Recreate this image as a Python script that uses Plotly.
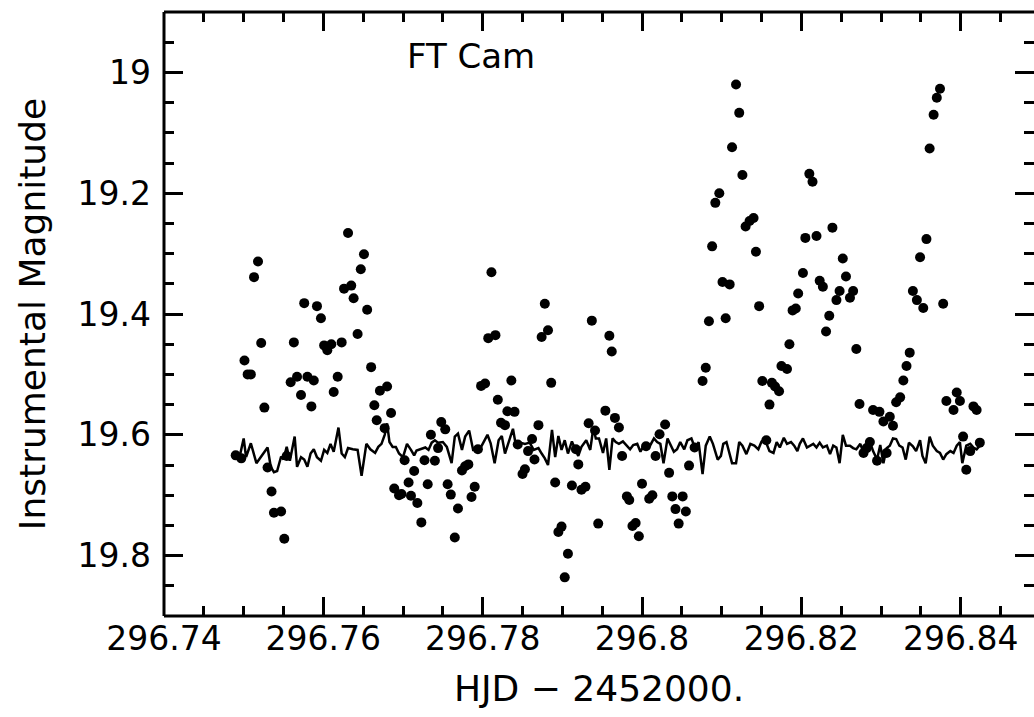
import plotly.graph_objects as go

# ---- FT Cam photometry (points) ----
hjd = [
296.7490, 296.7497, 296.7501, 296.7505, 296.7509, 296.7513, 296.7518, 296.7522, 296.7526, 296.7530,
296.7535, 296.7538, 296.7547, 296.7551, 296.7554, 296.7559, 296.7563, 296.7567, 296.7572, 296.7576,
296.7580, 296.7585, 296.7588, 296.7592, 296.7597, 296.7601, 296.7605, 296.7610, 296.7613, 296.7618,
296.7623, 296.7626, 296.7631, 296.7635, 296.7638, 296.7643, 296.7647, 296.7651, 296.7655, 296.7660,
296.7664, 296.7667, 296.7671, 296.7677, 296.7680, 296.7685, 296.7689, 296.7695, 296.7698, 296.7702,
296.7707, 296.7710, 296.7714, 296.7718, 296.7723, 296.7727, 296.7731, 296.7735, 296.7740, 296.7744,
296.7748, 296.7753, 296.7756, 296.7760, 296.7765, 296.7769, 296.7774, 296.7778, 296.7782, 296.7786,
296.7790, 296.7794, 296.7798, 296.7803, 296.7807, 296.7811, 296.7816, 296.7819, 296.7823, 296.7828,
296.7831, 296.7836, 296.7840, 296.7844, 296.7850, 296.7853, 296.7857, 296.7862, 296.7865, 296.7870,
296.7874, 296.7878, 296.7882, 296.7886, 296.7891, 296.7895, 296.7899, 296.7903, 296.7907, 296.7912,
296.7917, 296.7920, 296.7924, 296.7929, 296.7933, 296.7937, 296.7941, 296.7945, 296.7954, 296.7959,
296.7962, 296.7966, 296.7971, 296.7975, 296.7981, 296.7984, 296.7988, 296.7992, 296.7996, 296.8000,
296.8005, 296.8009, 296.8013, 296.8017, 296.8022, 296.8029, 296.8034, 296.8038, 296.8042, 296.8046,
296.8051, 296.8055, 296.8059, 296.8066, 296.8076, 296.8080, 296.8084, 296.8088, 296.8092, 296.8097,
296.8101, 296.8105, 296.8110, 296.8113, 296.8118, 296.8122, 296.8126, 296.8130, 296.8135, 296.8140,
296.8143, 296.8147, 296.8151, 296.8156, 296.8160, 296.8163, 296.8167, 296.8172, 296.8175, 296.8182,
296.8185, 296.8189, 296.8193, 296.8196, 296.8202, 296.8205, 296.8210, 296.8214, 296.8219, 296.8223,
296.8227, 296.8231, 296.8235, 296.8239, 296.8244, 296.8248, 296.8252, 296.8256, 296.8261, 296.8265,
296.8269, 296.8273, 296.8278, 296.8282, 296.8286, 296.8290, 296.8295, 296.8298, 296.8303, 296.8307,
296.8311, 296.8315, 296.8319, 296.8324, 296.8328, 296.8332, 296.8336, 296.8340, 296.8345, 296.8349,
296.8353, 296.8357, 296.8361, 296.8366, 296.8370, 296.8374, 296.8378, 296.8382, 296.8391, 296.8395,
296.8399, 296.8403, 296.8407, 296.8412, 296.8416, 296.8420, 296.8424,
]
mag = [
19.634, 19.639, 19.477, 19.500, 19.500, 19.339, 19.313, 19.448, 19.555, 19.654,
19.694, 19.729, 19.727, 19.772, 19.635, 19.513, 19.447, 19.504, 19.534, 19.382,
19.504, 19.553, 19.510, 19.387, 19.407, 19.452, 19.460, 19.450, 19.529, 19.504,
19.447, 19.358, 19.266, 19.353, 19.374, 19.433, 19.326, 19.301, 19.393, 19.488,
19.551, 19.576, 19.527, 19.589, 19.520, 19.564, 19.689, 19.700, 19.698, 19.642,
19.679, 19.701, 19.660, 19.713, 19.745, 19.642, 19.682, 19.600, 19.643, 19.622,
19.579, 19.591, 19.682, 19.699, 19.770, 19.722, 19.659, 19.652, 19.649, 19.703,
19.686, 19.624, 19.519, 19.515, 19.440, 19.331, 19.435, 19.542, 19.580, 19.584,
19.561, 19.510, 19.562, 19.616, 19.665, 19.657, 19.627, 19.607, 19.641, 19.584,
19.438, 19.383, 19.427, 19.514, 19.679, 19.761, 19.752, 19.836, 19.797, 19.684,
19.624, 19.649, 19.691, 19.686, 19.581, 19.411, 19.593, 19.747, 19.560, 19.436,
19.462, 19.572, 19.588, 19.635, 19.702, 19.708, 19.751, 19.746, 19.768, 19.681,
19.619, 19.706, 19.700, 19.635, 19.599, 19.583, 19.663, 19.702, 19.723, 19.747,
19.702, 19.727, 19.651, 19.621, 19.511, 19.489, 19.412, 19.288, 19.216, 19.200,
19.347, 19.407, 19.351, 19.124, 19.020, 19.067, 19.170, 19.255, 19.246, 19.241,
19.297, 19.387, 19.511, 19.609, 19.550, 19.514, 19.520, 19.528, 19.486, 19.491,
19.450, 19.394, 19.391, 19.366, 19.332, 19.274, 19.168, 19.181, 19.271, 19.345,
19.355, 19.429, 19.403, 19.257, 19.377, 19.362, 19.308, 19.338, 19.373, 19.362,
19.458, 19.549, 19.630, 19.622, 19.612, 19.559, 19.643, 19.562, 19.578, 19.630,
19.570, 19.585, 19.546, 19.538, 19.510, 19.486, 19.464, 19.362, 19.377, 19.306,
19.390, 19.276, 19.126, 19.070, 19.042, 19.027, 19.383, 19.544, 19.559, 19.530,
19.544, 19.603, 19.658, 19.627, 19.553, 19.559, 19.613,
]

# ---- comparison-star curve (line) ----
comp_hjd = [
296.7495, 296.7500, 296.7503, 296.7509, 296.7516, 296.7523, 296.7530, 296.7534, 296.7538, 296.7542,
296.7547, 296.7550, 296.7554, 296.7558, 296.7564, 296.7567, 296.7572, 296.7576, 296.7580, 296.7584,
296.7588, 296.7592, 296.7597, 296.7601, 296.7605, 296.7609, 296.7613, 296.7619, 296.7623, 296.7627,
296.7631, 296.7637, 296.7643, 296.7648, 296.7654, 296.7659, 296.7665, 296.7669,
296.7673, 296.7677, 296.7680, 296.7683, 296.7687, 296.7691, 296.7695, 296.7700, 296.7705, 296.7710,
296.7714, 296.7717, 296.7722, 296.7728, 296.7732, 296.7736, 296.7740, 296.7744, 296.7750, 296.7755,
296.7761, 296.7765, 296.7769, 296.7774, 296.7778, 296.7783, 296.7788, 296.7793, 296.7798, 296.7802,
296.7806, 296.7810, 296.7815, 296.7820, 296.7824, 296.7828, 296.7833, 296.7838, 296.7842, 296.7847,
296.7853, 296.7859, 296.7864, 296.7870, 296.7874, 296.7878, 296.7882, 296.7887, 296.7891, 296.7895,
296.7899, 296.7903, 296.7907, 296.7912, 296.7916, 296.7920, 296.7924, 296.7930, 296.7935,
296.7939, 296.7942, 296.7946, 296.7951, 296.7955, 296.7959, 296.7963, 296.7967, 296.7971, 296.7976,
296.7981, 296.7985, 296.7989, 296.7994, 296.7998, 296.8002, 296.8006, 296.8010, 296.8015, 296.8019,
296.8023, 296.8027, 296.8032, 296.8036, 296.8040, 296.8044, 296.8048, 296.8053, 296.8057, 296.8062,
296.8067, 296.8071, 296.8076, 296.8080, 296.8085, 296.8089, 296.8095, 296.8099, 296.8102, 296.8106,
296.8113, 296.8118, 296.8122, 296.8126, 296.8131, 296.8136, 296.8141, 296.8146, 296.8150, 296.8154,
296.8160, 296.8165, 296.8169, 296.8173, 296.8178, 296.8182, 296.8187, 296.8191, 296.8195, 296.8198,
296.8202, 296.8207, 296.8211, 296.8215, 296.8219, 296.8223, 296.8227, 296.8232, 296.8236, 296.8240,
296.8244, 296.8248, 296.8252, 296.8256, 296.8261, 296.8265, 296.8269, 296.8274, 296.8278, 296.8283,
296.8286, 296.8290, 296.8295, 296.8299, 296.8303, 296.8307, 296.8311, 296.8315, 296.8319, 296.8323,
296.8327, 296.8331, 296.8335, 296.8340, 296.8344, 296.8349, 296.8352, 296.8356, 296.8361, 296.8365,
296.8370, 296.8374, 296.8378, 296.8382, 296.8387, 296.8391, 296.8395, 296.8399, 296.8402, 296.8407,
296.8412, 296.8416, 296.8420, 296.8424,
]
comp_mag = [
19.636, 19.606, 19.637, 19.614, 19.647, 19.634, 19.621, 19.653, 19.662, 19.660,
19.636, 19.641, 19.620, 19.643, 19.603, 19.653, 19.637, 19.641, 19.653, 19.631,
19.624, 19.637, 19.643, 19.625, 19.630, 19.615, 19.628, 19.588, 19.631, 19.637,
19.622, 19.624, 19.625, 19.668, 19.615, 19.624, 19.630, 19.620,
19.615, 19.600, 19.581, 19.612, 19.620, 19.620, 19.631, 19.637, 19.615, 19.625,
19.634, 19.626, 19.624, 19.621, 19.625, 19.613, 19.609, 19.613, 19.612, 19.620,
19.647, 19.603, 19.598, 19.625, 19.603, 19.593, 19.625, 19.624, 19.620, 19.609,
19.600, 19.614, 19.647, 19.609, 19.602, 19.631, 19.609, 19.590, 19.620, 19.613,
19.615, 19.613, 19.625, 19.622, 19.631, 19.639, 19.650, 19.592, 19.637, 19.602,
19.625, 19.609, 19.631, 19.611, 19.624, 19.635, 19.620, 19.609, 19.625,
19.588, 19.606, 19.606, 19.630, 19.606, 19.658, 19.606, 19.612, 19.615, 19.611,
19.618, 19.624, 19.617, 19.615, 19.628, 19.618, 19.624, 19.618, 19.606, 19.612,
19.615, 19.647, 19.606, 19.618, 19.628, 19.624, 19.612, 19.624, 19.609, 19.606,
19.624, 19.612, 19.665, 19.618, 19.603, 19.615, 19.641, 19.635, 19.615, 19.612,
19.647, 19.647, 19.612, 19.618, 19.632, 19.615, 19.618, 19.624, 19.611, 19.607,
19.627, 19.630, 19.612, 19.621, 19.605, 19.615, 19.612, 19.618, 19.627, 19.615,
19.606, 19.621, 19.618, 19.615, 19.621, 19.613, 19.621, 19.618, 19.632, 19.618,
19.621, 19.647, 19.600, 19.618, 19.618, 19.622, 19.624, 19.615, 19.630, 19.624,
19.611, 19.627, 19.641, 19.617, 19.647, 19.622, 19.618, 19.606, 19.607, 19.618,
19.621, 19.641, 19.613, 19.619, 19.627, 19.609, 19.635, 19.647, 19.603, 19.618,
19.627, 19.630, 19.641, 19.632, 19.627, 19.630, 19.618, 19.612, 19.647, 19.618,
19.615, 19.621, 19.624, 19.618,
]

title_text = "FT Cam"
x_title = "HJD − 2452000."
y_title = "Instrumental Magnitude"

FONT = "DejaVu Sans"

fig = go.Figure()
fig.add_trace(go.Scatter(x=comp_hjd, y=comp_mag, mode="lines",
                         line=dict(color="black", width=2.5), showlegend=False))
fig.add_trace(go.Scatter(x=hjd, y=mag, mode="markers",
                         marker=dict(color="black", size=10), showlegend=False))

axis_common = dict(
    showline=False, mirror="ticks",
    ticks="inside", ticklen=19, tickwidth=2.5, tickcolor="black",
    showgrid=False, zeroline=False,
    tickfont=dict(family=FONT, size=33, color="black"),
)

# frame: left, bottom and top edges (the right edge lies outside the picture)
frame = [
    dict(type="line", xref="paper", yref="paper", x0=0, x1=0, y0=0, y1=1),
    dict(type="line", xref="paper", yref="paper", x0=0, x1=1, y0=0, y1=0),
    dict(type="line", xref="paper", yref="paper", x0=0, x1=1, y0=1, y1=1),
]
for s in frame:
    s["line"] = dict(color="black", width=3)

fig.update_layout(
    width=1034, height=717,
    margin=dict(l=164, r=0, t=12, b=101),
    paper_bgcolor="white", plot_bgcolor="white",
    shapes=frame,
    xaxis=dict(range=[296.74, 296.8492], tick0=296.74, dtick=0.02,
               minor=dict(dtick=0.005, ticklen=10, tickwidth=2.5, ticks="inside", tickcolor="black"),
               title=dict(text=x_title, font=dict(family=FONT, size=36, color="black"), standoff=18),
               **axis_common),
    yaxis=dict(range=[19.9, 18.9], tick0=19.0, dtick=0.2,
               minor=dict(dtick=0.05, ticklen=10, tickwidth=2.5, ticks="inside", tickcolor="black"),
               title=dict(text=y_title, font=dict(family=FONT, size=36, color="black"), standoff=20),
               ticklabelstandoff=12,
               **axis_common),
    annotations=[dict(text=title_text, x=296.7785, y=18.973, xref="x", yref="y",
                      showarrow=False, font=dict(family=FONT, size=34, color="black"))],
)

fig.write_html("out.html", config={"displayModeBar": False},
               post_script="document.body.style.margin='0px';document.body.style.overflow='hidden';")
